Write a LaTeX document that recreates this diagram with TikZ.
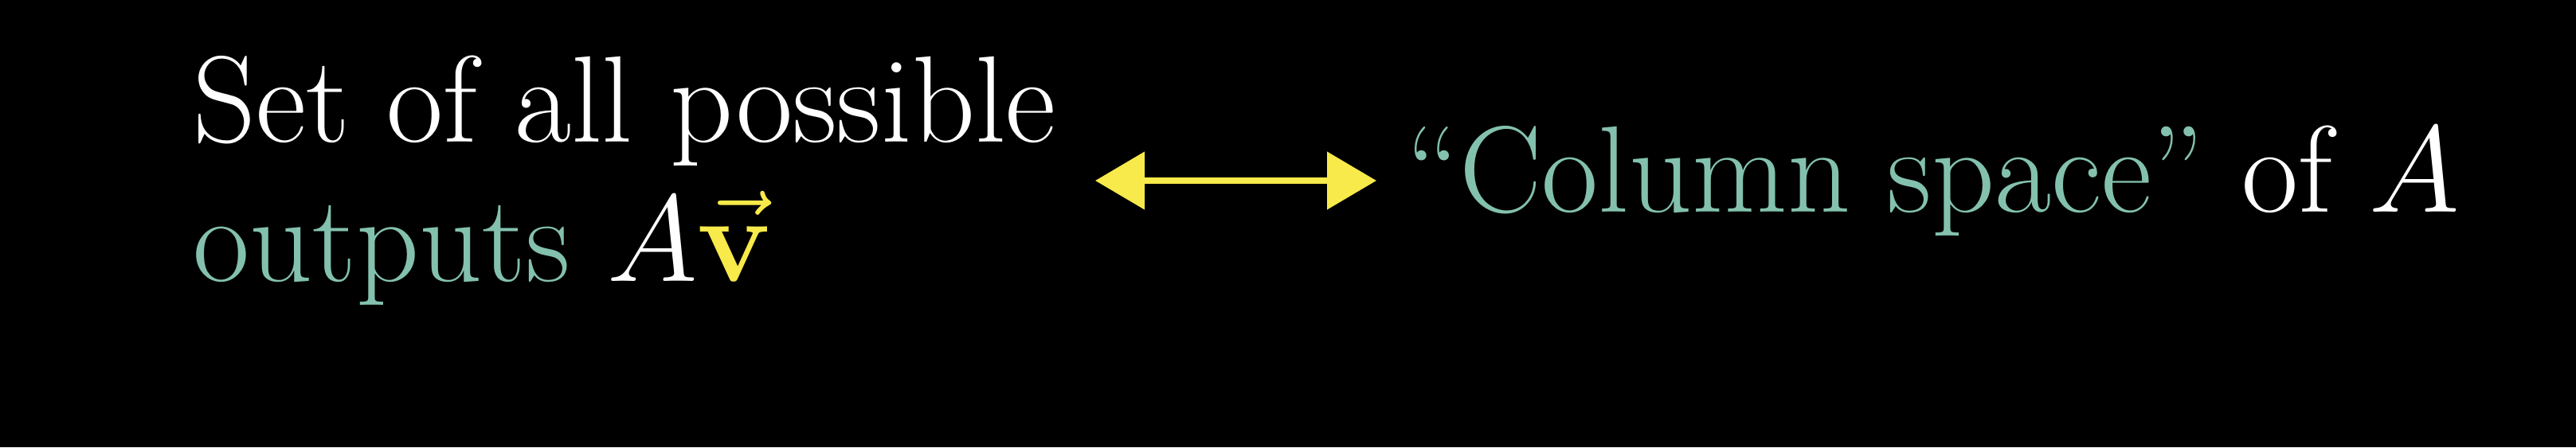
\RequirePackage{fix-cm}
\documentclass[tikz,border=0pt]{standalone}
\usepackage{amsmath}
\usepackage{amssymb}
\usepackage{xcolor}
\usepackage{tikz}
\usetikzlibrary{arrows.meta,positioning}
\definecolor{spaceteal}{RGB}{131, 193, 174}
\definecolor{vecyellow}{RGB}{247, 234, 74}

\begin{document}
\begin{tikzpicture}[
    words/.style={inner sep=0pt, anchor=base west, text=white,
      font=\fontsize{44}{50}\selectfont}
  ]
        \fill[black] (0,0) rectangle (32.34,5.62);

        % Left text
        \node[words] (setall) at (2.42,3.84) {Set of all possible};
        \node[words] (outputs) at (2.42,2.09)
          {\textcolor{spaceteal}{outputs} $A\textcolor{vecyellow}{\vec{\mathbf{v}}}$};

        % Right text
        \node[words] (colspace) at (17.65,2.96)
          {\textcolor{spaceteal}{``Column space''} of $A$};

        % Double arrow
        \coordinate (arrowL) at (13.75,3.35);
        \coordinate (arrowR) at (17.28,3.35);
        \draw[vecyellow, line width=0.08cm,
          {Triangle[length=0.62cm,width=0.71cm]}-{Triangle[length=0.62cm,width=0.71cm]}]
          (arrowL) -- (arrowR);
      \end{tikzpicture}
\end{document}
